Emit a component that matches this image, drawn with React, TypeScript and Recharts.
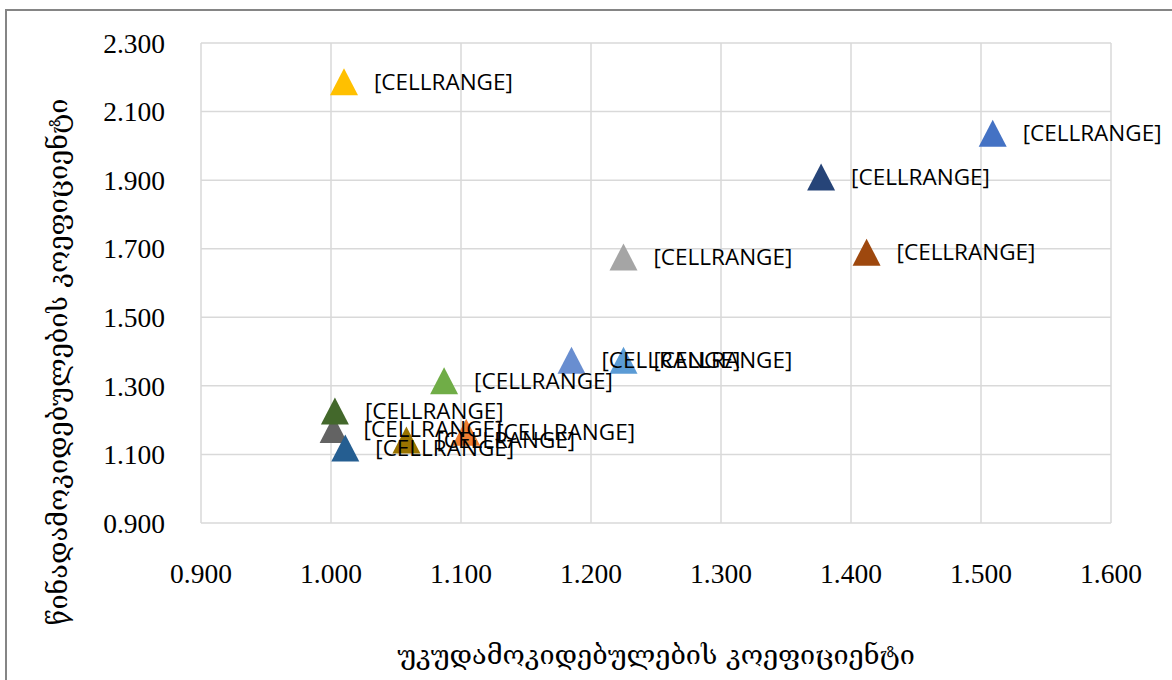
import { ScatterChart, Scatter, XAxis, YAxis, CartesianGrid, LabelList, Cell, Label } from 'recharts';

// one point per series, Office palette order
const xValues = [1.509, 1.104, 1.225, 1.010, 1.225, 1.087, 1.377, 1.412, 1.002, 1.058, 1.011, 1.003, 1.185];
const yValues = [2.037, 1.165, 1.676, 2.187, 1.375, 1.315, 1.909, 1.690, 1.173, 1.142, 1.119, 1.227, 1.375];
const pointColors = [
  '#4472C4', '#ED7D31', '#A5A5A5', '#FFC000', '#5B9BD5', '#70AD47',
  '#264478', '#9E480E', '#636363', '#997300', '#255E91', '#43682B', '#698ED0'
];
const pointLabels = [
  '[CELLRANGE]', '[CELLRANGE]', '[CELLRANGE]', '[CELLRANGE]', '[CELLRANGE]', '[CELLRANGE]',
  '[CELLRANGE]', '[CELLRANGE]', '[CELLRANGE]', '[CELLRANGE]', '[CELLRANGE]', '[CELLRANGE]', '[CELLRANGE]'
];
const xTicks = [0.9, 1.0, 1.1, 1.2, 1.3, 1.4, 1.5, 1.6];
const yTicks = [0.9, 1.1, 1.3, 1.5, 1.7, 1.9, 2.1, 2.3];
const xTitle = 'უკუდამოკიდებულების კოეფიციენტი';
const yTitle = 'წინადამოკიდებულების კოეფიციენტი';

const data = xValues.map((x, i) => ({ x, y: yValues[i], label: pointLabels[i] }));

const tickFont = { fontFamily: '"Liberation Serif", serif', fontSize: 27.5, fill: '#000' };
const titleFont = '"DejaVu Serif", "DejaVu Sans", serif';

function Triangle(props: any) {
  const { cx, cy, fill } = props;
  if (cx == null || cy == null) return null;
  const w = 14, h = 13.5;
  return <polygon points={`${cx},${cy - h} ${cx + w},${cy + h} ${cx - w},${cy + h}`} fill={fill} />;
}

export default function App() {
  return (
    <div style={{ position: 'fixed', left: 0, top: 0, width: 1172, height: 680, overflow: 'hidden', background: '#fff' }}>
      <div style={{ position: 'absolute', left: 5, top: 9, width: 1300, height: 800, border: '2px solid #858585' }} />
      <div style={{ position: 'absolute', left: 0, top: 0 }}>
        <ScatterChart width={1172} height={680} margin={{ top: 43, right: 61, bottom: 0, left: 0 }}>
          <CartesianGrid stroke="#d9d9d9" strokeWidth={1.5} />
          <XAxis
            type="number"
            dataKey="x"
            domain={[0.9, 1.6]}
            ticks={xTicks}
            height={157}
            axisLine={false}
            tickLine={false}
            tickMargin={34}
            tick={tickFont}
            tickFormatter={(v: number) => v.toFixed(3)}
          >
            <Label
              content={(p: any) => {
                const vb = p.viewBox;
                const cx = vb.x + vb.width / 2;
                return (
                  <text x={cx} y={664} textAnchor="middle" fontFamily={titleFont} fontSize={27} fill="#000">
                    {xTitle}
                  </text>
                );
              }}
            />
          </XAxis>
          <YAxis
            type="number"
            dataKey="y"
            domain={[0.9, 2.3]}
            ticks={yTicks}
            width={201}
            axisLine={false}
            tickLine={false}
            tickMargin={30}
            tick={tickFont}
            tickFormatter={(v: number) => v.toFixed(3)}
          >
            <Label
              content={() => {
                const cy = 362;
                return (
                  <text x={67} y={cy} textAnchor="middle" fontFamily={titleFont} fontSize={27} fill="#000"
                    transform={`rotate(-90, 67, ${cy})`}>
                    {yTitle}
                  </text>
                );
              }}
            />
          </YAxis>
          <Scatter data={data} shape={<Triangle />} isAnimationActive={false}>
            {data.map((d, i) => (
              <Cell key={i} fill={pointColors[i]} />
            ))}
            <LabelList
              dataKey="label"
              content={(p: any) => {
                const cx = p.x + p.width / 2;
                const cy = p.y + p.height / 2;
                return (
                  <text x={cx + 30} y={cy + 8} fontFamily='"Open Sans", sans-serif' fontSize={22.5} fill="#000">
                    {p.value}
                  </text>
                );
              }}
            />
          </Scatter>
        </ScatterChart>
      </div>
    </div>
  );
}
